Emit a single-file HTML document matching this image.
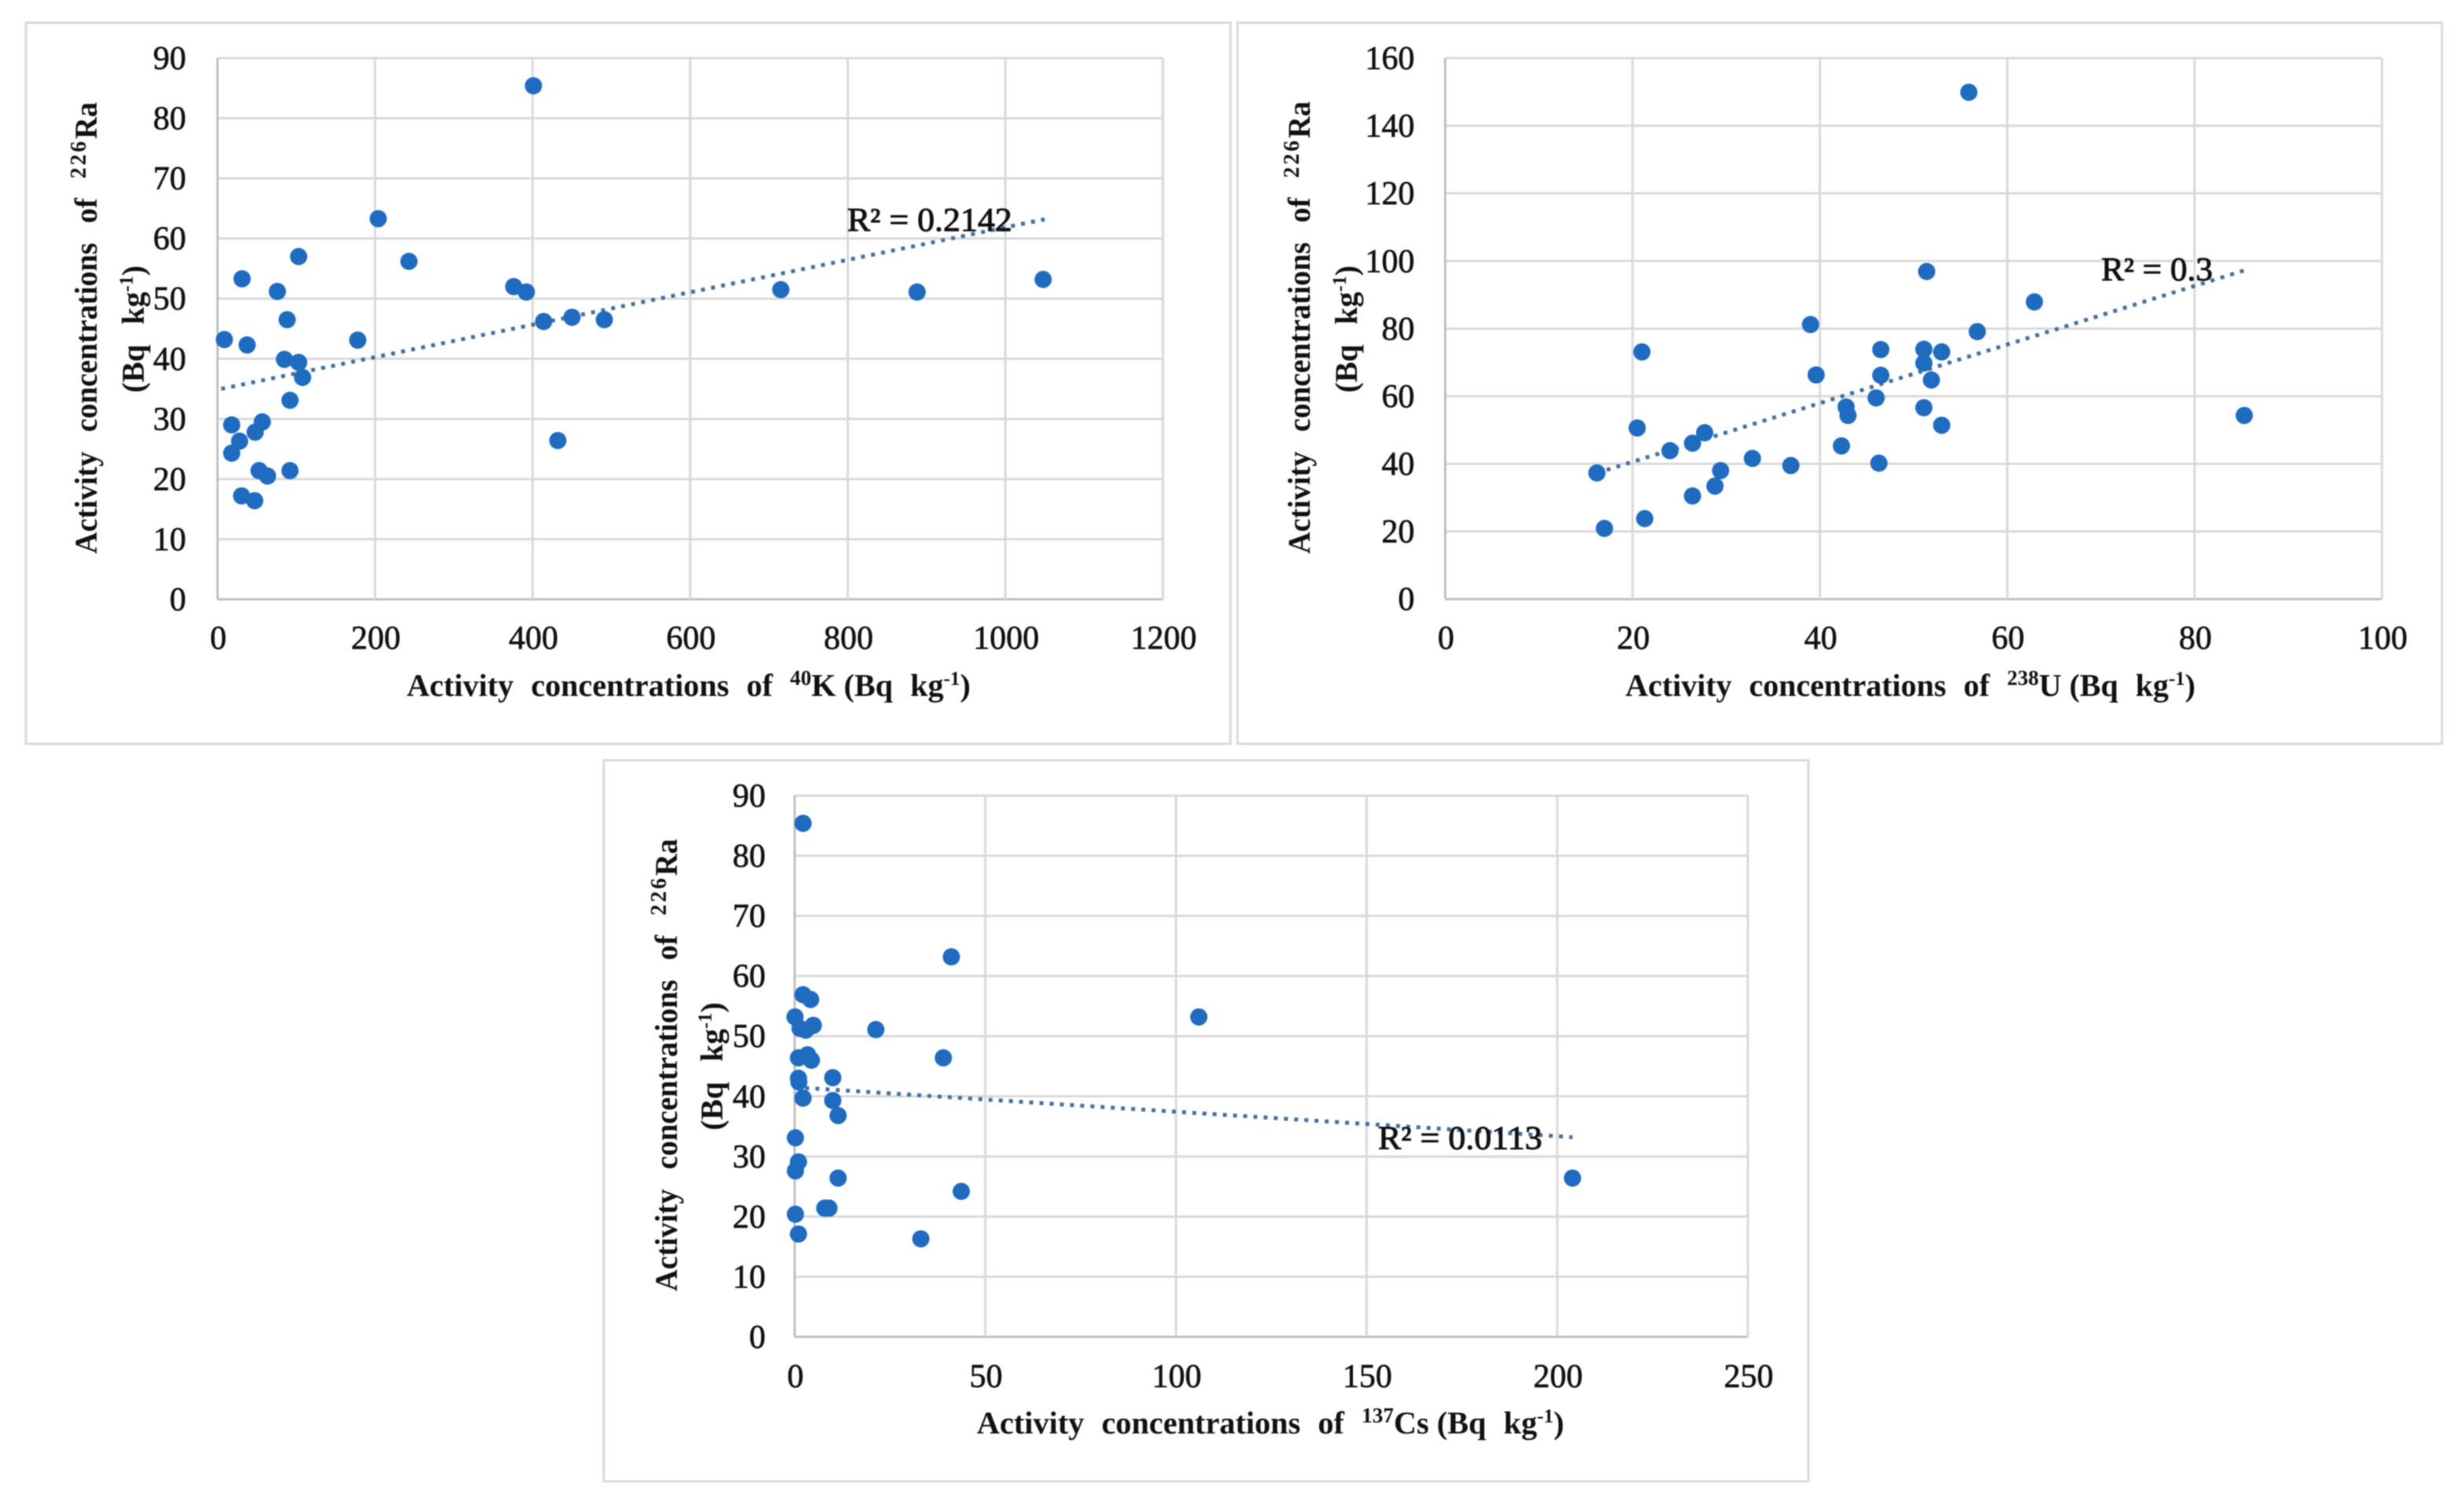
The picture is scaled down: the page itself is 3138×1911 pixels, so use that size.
<!DOCTYPE html>
<html lang="en">
<head>
<meta charset="utf-8">
<title>226Ra activity concentration correlations</title>
<style>
html,body{margin:0;padding:0;background:#fff;}
body{width:3138px;height:1911px;overflow:hidden;}
svg{display:block;filter:blur(0.8px);}
text{font-family:"Liberation Serif","Times New Roman",serif;fill:#111;}
.tick{font-size:42px;stroke:#111;stroke-width:0.7px;}
.title{font-size:40px;font-weight:bold;word-spacing:12px;}
.title-v{font-size:40px;font-weight:bold;word-spacing:16px;}
.r2{font-size:42px;stroke:#111;stroke-width:1px;}
.tight{word-spacing:0;}
.sup-v{font-size:29px;letter-spacing:3px;}
</style>
</head>
<body>
<svg id="figure" xmlns="http://www.w3.org/2000/svg" width="3138" height="1911" viewBox="0 0 3138 1911">
  <rect x="33" y="29" width="1534" height="918" fill="#fff" stroke="#d9d9d9" stroke-width="3"/>
  <rect x="1576" y="29" width="1534" height="918" fill="#fff" stroke="#d9d9d9" stroke-width="3"/>
  <rect x="769" y="968" width="1534" height="918" fill="#fff" stroke="#d9d9d9" stroke-width="3"/>
  <g id="chart-k"></g>
  <g id="chart-u"></g>
  <g id="chart-cs"></g>

  <text class="title" x="518" y="886" textLength="718" lengthAdjust="spacingAndGlyphs">Activity concentrations of <tspan font-size="27" dy="-14">40</tspan><tspan dy="14" class="tight">K (Bq</tspan> kg<tspan font-size="25" dy="-14">-1</tspan><tspan dy="14">)</tspan></text>
  <text class="title-v" transform="translate(123,705) rotate(-90)" textLength="575" lengthAdjust="spacingAndGlyphs">Activity concentrations of <tspan class="sup-v" dy="-14">226</tspan><tspan dy="14">Ra</tspan></text>
  <text class="title-v" transform="translate(183,500) rotate(-90)" textLength="162" lengthAdjust="spacingAndGlyphs">(Bq kg<tspan font-size="25" dy="-14">-1</tspan><tspan dy="14">)</tspan></text>

  <text class="title" x="2070" y="886" textLength="726" lengthAdjust="spacingAndGlyphs">Activity concentrations of <tspan font-size="27" dy="-14">238</tspan><tspan dy="14" class="tight">U (Bq</tspan> kg<tspan font-size="25" dy="-14">-1</tspan><tspan dy="14">)</tspan></text>
  <text class="title-v" transform="translate(1668,705) rotate(-90)" textLength="576" lengthAdjust="spacingAndGlyphs">Activity concentrations of <tspan class="sup-v" dy="-14">226</tspan><tspan dy="14">Ra</tspan></text>
  <text class="title-v" transform="translate(1728,500) rotate(-90)" textLength="162" lengthAdjust="spacingAndGlyphs">(Bq kg<tspan font-size="25" dy="-14">-1</tspan><tspan dy="14">)</tspan></text>

  <text class="title" x="1244" y="1825" textLength="748" lengthAdjust="spacingAndGlyphs">Activity concentrations of <tspan font-size="27" dy="-14">137</tspan><tspan dy="14" class="tight">Cs (Bq</tspan> kg<tspan font-size="25" dy="-14">-1</tspan><tspan dy="14">)</tspan></text>
  <text class="title-v" transform="translate(862,1644) rotate(-90)" textLength="576" lengthAdjust="spacingAndGlyphs">Activity concentrations of <tspan class="sup-v" dy="-14">226</tspan><tspan dy="14">Ra</tspan></text>
  <text class="title-v" transform="translate(920,1439) rotate(-90)" textLength="163" lengthAdjust="spacingAndGlyphs">(Bq kg<tspan font-size="25" dy="-14">-1</tspan><tspan dy="14">)</tspan></text>

  <text class="r2" x="1079" y="294" textLength="210" lengthAdjust="spacingAndGlyphs">R² = 0.2142</text>
  <text class="r2" x="2676" y="357" textLength="142" lengthAdjust="spacingAndGlyphs">R² = 0.3</text>
  <text class="r2" x="1755" y="1463" textLength="209" lengthAdjust="spacingAndGlyphs">R² = 0.0113</text>
</svg>
<script>
// Chart 1: 40K vs 226Ra
const kXTicks = [0, 200, 400, 600, 800, 1000, 1200];
const kYTicks = [0, 10, 20, 30, 40, 50, 60, 70, 80, 90];
const kValues = [401, 204, 103, 243, 31.2, 76, 376, 392, 88.4, 414, 450, 491, 8.7, 37.6, 178, 85, 103, 108, 92, 18, 56.8, 47.8, 28, 18, 52.8, 63.5, 92, 30.6, 47.2, 432, 715, 888, 1048];
const kRa = [85.4, 63.3, 57, 56.2, 53.3, 51.2, 52, 51.1, 46.5, 46.2, 46.9, 46.5, 43.2, 42.3, 43.1, 39.9, 39.4, 36.9, 33.1, 29, 29.5, 27.8, 26.3, 24.3, 21.4, 20.5, 21.4, 17.2, 16.4, 26.4, 51.5, 51.1, 53.2];
const kTrendX = [4.7, 1050];
const kTrendY = [35, 63.2];

// Chart 2: 238U vs 226Ra
const uXTicks = [0, 20, 40, 60, 80, 100];
const uYTicks = [0, 20, 40, 60, 80, 100, 120, 140, 160];
const uValues = [55.9, 51.4, 62.9, 39, 56.8, 21, 46.5, 51.1, 53, 51.1, 39.6, 46.5, 51.9, 46, 42.8, 43, 51.1, 53, 20.5, 27.7, 26.4, 24, 42.3, 32.8, 36.9, 46.3, 16.2, 29.4, 28.8, 26.4, 21.3, 17, 85.3];
const uRa = [149.9, 96.9, 87.9, 81.2, 79.1, 73.1, 73.8, 73.9, 73.1, 69.8, 66.3, 66.2, 64.8, 59.5, 56.8, 54.3, 56.6, 51.4, 50.6, 49.2, 46.1, 43.9, 45.3, 41.6, 39.5, 40.2, 37.3, 38, 33.4, 30.5, 23.8, 20.9, 54.3];
const uTrendX = [16.2, 85.4];
const uTrendY = [37.3, 97.3];

// Chart 3: 137Cs vs 226Ra
const csXTicks = [0, 50, 100, 150, 200, 250];
const csYTicks = [0, 10, 20, 30, 40, 50, 60, 70, 80, 90];
const csValues = [2.2, 41.1, 2.2, 4.2, 0.1, 4.9, 1.4, 2.9, 21.3, 39, 1, 3.4, 4.4, 1, 1.1, 10, 2.2, 10, 11.4, 0.2, 1, 0.2, 11.4, 43.7, 7.9, 9, 0.2, 1, 33.1, 106, 204];
const csRa = [85.4, 63.2, 56.9, 56.1, 53.2, 51.8, 51.3, 51, 51.1, 46.4, 46.4, 46.9, 46, 43, 42.4, 43.1, 39.7, 39.3, 36.8, 33.1, 29.1, 27.6, 26.4, 24.2, 21.4, 21.4, 20.4, 17.1, 16.3, 53.2, 26.4];
const csTrendX = [0.1, 204];
const csTrendY = [41.5, 33.2];

const SVG_NS = 'http://www.w3.org/2000/svg';

function drawChart(cfg) {
  const root = document.getElementById(cfg.id);
  const xMax = cfg.xTicks[cfg.xTicks.length - 1];
  const yMax = cfg.yTicks[cfg.yTicks.length - 1];
  const sx = v => cfg.left + (v / xMax) * (cfg.right - cfg.left);
  const sy = v => cfg.bottom - (v / yMax) * (cfg.bottom - cfg.top);

  const make = (tag, attrs, text) => {
    const el = document.createElementNS(SVG_NS, tag);
    for (const k in attrs) el.setAttribute(k, attrs[k]);
    if (text !== undefined) el.textContent = text;
    root.appendChild(el);
    return el;
  };

  cfg.yTicks.forEach(t => {
    const line = make('line', { x1: cfg.left, x2: cfg.right, y1: sy(t), y2: sy(t), stroke: t === 0 ? '#bfbfbf' : '#d9d9d9', 'stroke-width': 3 });
    
    
    const label = make('text', { class: 'tick', x: cfg.left - cfg.yLabelGap, y: sy(t) + 14, 'text-anchor': 'end' }, String(t));
    
    
  });

  cfg.xTicks.forEach(t => {
    const line = make('line', { x1: sx(t), x2: sx(t), y1: cfg.top, y2: cfg.bottom, stroke: t === 0 ? '#bfbfbf' : '#d9d9d9', 'stroke-width': 3 });
    
    
    const label = make('text', { class: 'tick', x: sx(t) + 1, y: cfg.xLabelY, 'text-anchor': 'middle' }, String(t));
    
    
  });

  const trend = make('line', {
    x1: sx(cfg.trendX[0]), y1: sy(cfg.trendY[0]),
    x2: sx(cfg.trendX[1]), y2: sy(cfg.trendY[1]),
    stroke: '#456f9f', 'stroke-width': 5, 'stroke-dasharray': '5 8'
  });
  
  

  cfg.xs.forEach((x, i) => {
    const dot = make('circle', { cx: sx(x), cy: sy(cfg.ys[i]), r: 11, fill: '#1f6bc0' });
    
    
  });
}

drawChart({ id: 'chart-k', left: 277, right: 1481, top: 74, bottom: 763, yLabelGap: 40, xLabelY: 826, xTicks: kXTicks, yTicks: kYTicks, xs: kValues, ys: kRa, trendX: kTrendX, trendY: kTrendY });
drawChart({ id: 'chart-u', left: 1840.5, right: 3033.5, top: 74, bottom: 762.7, yLabelGap: 39, xLabelY: 826, xTicks: uXTicks, yTicks: uYTicks, xs: uValues, ys: uRa, trendX: uTrendX, trendY: uTrendY });
drawChart({ id: 'chart-cs', left: 1012, right: 2226, top: 1013, bottom: 1702, yLabelGap: 37, xLabelY: 1766, xTicks: csXTicks, yTicks: csYTicks, xs: csValues, ys: csRa, trendX: csTrendX, trendY: csTrendY });
</script>
</body>
</html>
